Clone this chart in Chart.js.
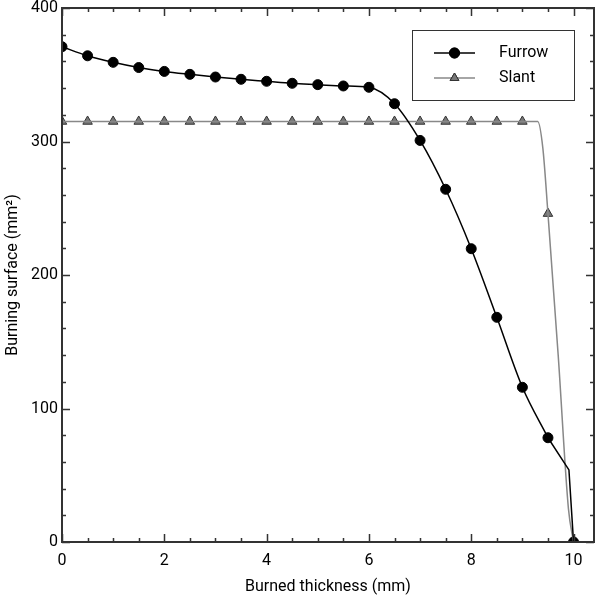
<!DOCTYPE html>
<html>
<head>
<meta charset="utf-8">
<script src="https://cdn.jsdelivr.net/npm/chart.js@4/dist/chart.umd.min.js"></script>
<style>
html,body{margin:0;padding:0;background:#fff;}
#wrap{width:596px;height:598px;}
</style>
</head>
<body>
<div id="wrap"><canvas id="c" width="596" height="598"></canvas></div>
<script>
// ---- data ----
const markX = [0,0.5,1,1.5,2,2.5,3,3.5,4,4.5,5,5.5,6,6.5,7,7.5,8,8.5,9,9.5,10];
const furrowMarks = [371,364.2,359.3,355.4,352.5,350.3,348.3,346.6,345.1,343.6,342.6,341.6,340.6,328.3,300.8,264.2,219.7,168.3,115.9,78.1,0];
const furrowLineX = [0,0.5,1,1.5,2,2.5,3,3.5,4,4.5,5,5.5,6,6.5,7,7.5,8,8.5,9,9.5];
const furrowLineY = [371,364.2,359.3,355.4,352.5,350.3,348.3,346.6,345.1,343.6,342.6,341.6,340.6,328.3,300.8,264.2,219.7,168.3,115.9,78.1];
const furrowTailX = [9.5,9.91,10];
const furrowTailY = [78.1,54,0];
const slantMarkX = [0,0.5,1,1.5,2,2.5,3,3.5,4,4.5,5,5.5,6,6.5,7,7.5,8,8.5,9,9.5];
const slantMarks = [315,315,315,315,315,315,315,315,315,315,315,315,315,315,315,315,315,315,315,246];
const slantLineX = [0,9.3,9.4,9.5,9.7,9.9,10];
const slantLineY = [315,315,295,246,140,25,0];
const seriesNames = ["Furrow","Slant"];
const xTitle = "Burned thickness (mm)";
const yTitle = "Burning surface (mm²)";

const FONT = "Roboto";
const pts = (xs, ys) => xs.map((x,i)=>({x:x,y:ys[i]}));

const frameAndTicks = {
  id:'frameAndTicks',
  afterDatasetsDraw(chart){
    const ctx = chart.ctx, a = chart.chartArea;
    const xs = chart.scales.x, ys = chart.scales.y;
    ctx.save();
    ctx.strokeStyle = '#333';
    ctx.lineWidth = 1.5;
    for (let v = 0; v <= xs.max + 1e-9; v += 0.5) {
      const px = Math.round(xs.getPixelForValue(v)) + 0.5;
      const major = Math.abs(v/2 - Math.round(v/2)) < 1e-9;
      const L = major ? 8 : 4;
      ctx.beginPath();
      ctx.moveTo(px, a.bottom); ctx.lineTo(px, a.bottom - L);
      ctx.moveTo(px, a.top); ctx.lineTo(px, a.top + L);
      ctx.stroke();
    }
    for (let v = 0; v <= ys.max + 1e-9; v += 20) {
      const py = Math.round(ys.getPixelForValue(v)) + 0.5;
      const major = v % 100 === 0;
      const L = major ? 8 : 4;
      ctx.beginPath();
      ctx.moveTo(a.left, py); ctx.lineTo(a.left + L, py);
      ctx.moveTo(a.right, py); ctx.lineTo(a.right - L, py);
      ctx.stroke();
    }
    ctx.lineWidth = 2;
    ctx.strokeRect(a.left, a.top, a.right - a.left, a.bottom - a.top);
    // legend
    const bx = 412, by = 30, bw = 162, bh = 70;
    ctx.fillStyle = '#fff';
    ctx.fillRect(bx, by, bw, bh);
    ctx.lineWidth = 1;
    ctx.strokeStyle = '#333';
    ctx.strokeRect(bx + 0.5, by + 0.5, bw, bh);
    const rows = [
      {y: 53, color: '#000', w: 1.5, style: 'circle', fill: '#000', stroke: '#000'},
      {y: 78, color: '#888', w: 1.5, style: 'triangle', fill: '#777', stroke: '#333'}
    ];
    rows.forEach((r, i) => {
      ctx.strokeStyle = r.color; ctx.lineWidth = r.w;
      ctx.beginPath(); ctx.moveTo(434, r.y); ctx.lineTo(475, r.y); ctx.stroke();
      ctx.fillStyle = r.fill; ctx.strokeStyle = r.stroke; ctx.lineWidth = 1;
      Chart.helpers.drawPoint(ctx, {pointStyle: r.style, radius: 5, borderWidth: 1}, 454.5, r.y);
      ctx.fill(); ctx.stroke();
      ctx.fillStyle = '#000';
      ctx.font = '16px ' + FONT;
      ctx.textBaseline = 'middle';
      ctx.textAlign = 'left';
      ctx.fillText(seriesNames[i], 499, r.y);
    });
    ctx.restore();
  }
};

new Chart(document.getElementById('c'), {
  type: 'scatter',
  data: {
    datasets: [
      {label: seriesNames[0] + ' line', data: pts(furrowLineX, furrowLineY), showLine: true,
       borderColor: '#000', borderWidth: 1.5, pointRadius: 0, cubicInterpolationMode: 'monotone', clip: 0},
      {label: seriesNames[0] + ' tail', data: pts(furrowTailX, furrowTailY), showLine: true,
       borderColor: '#000', borderWidth: 1.5, pointRadius: 0, tension: 0, clip: 0},
      {label: seriesNames[1] + ' line', data: pts(slantLineX, slantLineY), showLine: true,
       borderColor: '#888', borderWidth: 1.5, pointRadius: 0, cubicInterpolationMode: 'monotone', clip: 0},
      {label: seriesNames[1], data: pts(slantMarkX, slantMarks), showLine: false,
       pointStyle: 'triangle', pointRadius: 5.5, backgroundColor: '#777', borderColor: '#333', borderWidth: 1, clip: 0},
      {label: seriesNames[0], data: pts(markX, furrowMarks), showLine: false,
       pointStyle: 'circle', pointRadius: 5, backgroundColor: '#000', borderColor: '#000', borderWidth: 1, clip: 0}
    ]
  },
  options: {
    responsive: false,
    animation: false,
    devicePixelRatio: 1,
    layout: {autoPadding: false, padding: {top: 8, right: 2, left: 0, bottom: 0}},
    plugins: {legend: {display: false}, tooltip: {enabled: false}},
    scales: {
      x: {
        type: 'linear', min: 0, max: 10.4,
        grid: {display: false, drawTicks: true, tickLength: 11},
        border: {display: false},
        ticks: {stepSize: 2, includeBounds: false, color: '#000', padding: 0, font: {family: FONT, size: 16, lineHeight: 1}},
        title: {display: true, text: xTitle, color: '#000', font: {family: FONT, size: 16}, padding: {top: 2, bottom: 1}},
        afterFit(s){ s.height = 56; }
      },
      y: {
        type: 'linear', min: 0, max: 400,
        grid: {display: false, drawTicks: true, tickLength: 4},
        border: {display: false},
        ticks: {stepSize: 100, color: '#000', padding: 0, font: {family: FONT, size: 16, lineHeight: 1}},
        title: {display: true, text: yTitle, color: '#000', font: {family: FONT, size: 16}, padding: {top: 3, bottom: 4}},
        afterFit(s){ s.width = 62; }
      }
    }
  },
  plugins: [frameAndTicks]
});
</script>
</body>
</html>
